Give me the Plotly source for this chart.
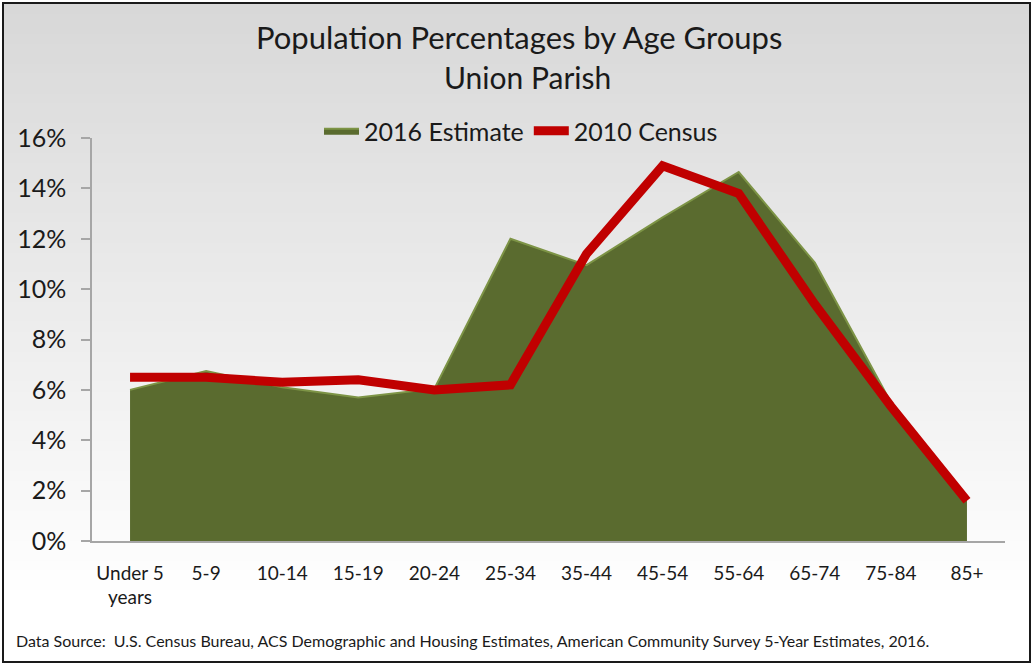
import plotly.graph_objects as go

# Age groups and population shares (percent)
age_groups = ["Under 5<br>years", "5-9", "10-14", "15-19", "20-24", "25-34",
              "35-44", "45-54", "55-64", "65-74", "75-84", "85+"]
estimate_2016 = [6.0, 6.75, 6.1, 5.7, 6.05, 12.0, 10.95, 12.85, 14.65, 11.05, 5.5, 1.75]
census_2010 = [6.5, 6.5, 6.3, 6.4, 6.0, 6.2, 11.4, 14.9, 13.8, 9.4, 5.35, 1.6]
y_ticks = [0, 2, 4, 6, 8, 10, 12, 14, 16]
title_lines = ["Population Percentages by Age Groups", "Union Parish"]

W, H = 1034, 665
L, R, T, B = 92, 29, 138, 124
pw, ph = W - L - R, H - T - B

FONT = "Lato"
INK = "#1a1a1a"


def px_x(px):
    return (px - L) / pw


def px_y(py):
    return (H - B - py) / ph


fig = go.Figure()

fig.add_trace(go.Scatter(
    x=list(range(len(age_groups))), y=estimate_2016, name="2016 Estimate",
    mode="lines", fill="tozeroy", fillcolor="#5a6b2f",
    line=dict(color="#7d9446", width=2),
))
fig.add_trace(go.Scatter(
    x=list(range(len(age_groups))), y=census_2010, name="2010 Census",
    mode="lines", line=dict(color="#c00000", width=9),
))

# Vertical background gradient, light grey at top fading to white
shapes = []
top_px, bot_px = 4, 600
n = 60
c0, c1 = 216, 255
for i in range(n):
    y0 = top_px + (bot_px - top_px) * i / n
    y1 = top_px + (bot_px - top_px) * (i + 1) / n + 1
    c = round(c0 + (c1 - c0) * i / (n - 1))
    shapes.append(dict(
        type="rect", xref="paper", yref="paper", layer="below",
        x0=px_x(4), x1=px_x(W - 4), y0=px_y(y1), y1=px_y(y0),
        fillcolor=f"rgb({c},{c},{c})", line=dict(width=0),
    ))
# Outer border
shapes.append(dict(
    type="rect", xref="paper", yref="paper", layer="above",
    x0=px_x(3), x1=px_x(W - 4), y0=px_y(662), y1=px_y(3),
    line=dict(color=INK, width=2), fillcolor="rgba(0,0,0,0)",
))

annotations = [
    dict(text=title_lines[0], xref="paper", yref="paper",
         x=px_x(519), y=px_y(37), xanchor="center", yanchor="middle",
         showarrow=False, font=dict(size=31, family=FONT, color=INK)),
    dict(text=title_lines[1], xref="paper", yref="paper",
         x=px_x(527), y=px_y(77), xanchor="center", yanchor="middle",
         showarrow=False, font=dict(size=30, family=FONT, color=INK)),
    dict(text="Data Source:  U.S. Census Bureau, ACS Demographic and Housing Estimates, "
              "American Community Survey 5-Year Estimates, 2016.",
         xref="paper", yref="paper", x=px_x(14), y=px_y(640),
         xanchor="left", yanchor="middle", showarrow=False,
         font=dict(size=16, family=FONT, color=INK)),
]

fig.update_layout(
    width=W, height=H,
    margin=dict(l=L, r=R, t=T, b=B),
    paper_bgcolor="white", plot_bgcolor="rgba(0,0,0,0)",
    font=dict(family=FONT, color=INK),
    legend=dict(
        orientation="h", x=px_x(521), xanchor="center",
        y=px_y(131), yanchor="middle",
        font=dict(size=25, family=FONT, color=INK),
        bgcolor="rgba(0,0,0,0)", itemwidth=35,
    ),
    xaxis=dict(
        tickmode="array", tickvals=list(range(len(age_groups))), ticktext=age_groups,
        range=[-0.5, len(age_groups) - 0.5],
        showgrid=False, zeroline=False,
        showline=True, linecolor="#a6a6a6", linewidth=1.5,
        ticks="", ticklabelstandoff=14,
        tickfont=dict(size=19, family=FONT, color=INK),
        fixedrange=True,
    ),
    yaxis=dict(
        range=[0, 16], tickvals=y_ticks, ticktext=[f"{v}%" for v in y_ticks],
        showgrid=False, zeroline=False,
        showline=True, linecolor="#a6a6a6", linewidth=1.5,
        ticks="outside", ticklen=9, tickcolor="#a6a6a6", tickwidth=1.5,
        ticklabelstandoff=10,
        tickfont=dict(size=25, family=FONT, color=INK),
        fixedrange=True,
    ),
    shapes=shapes,
    annotations=annotations,
    showlegend=True,
)

fig.write_html("out.html")
